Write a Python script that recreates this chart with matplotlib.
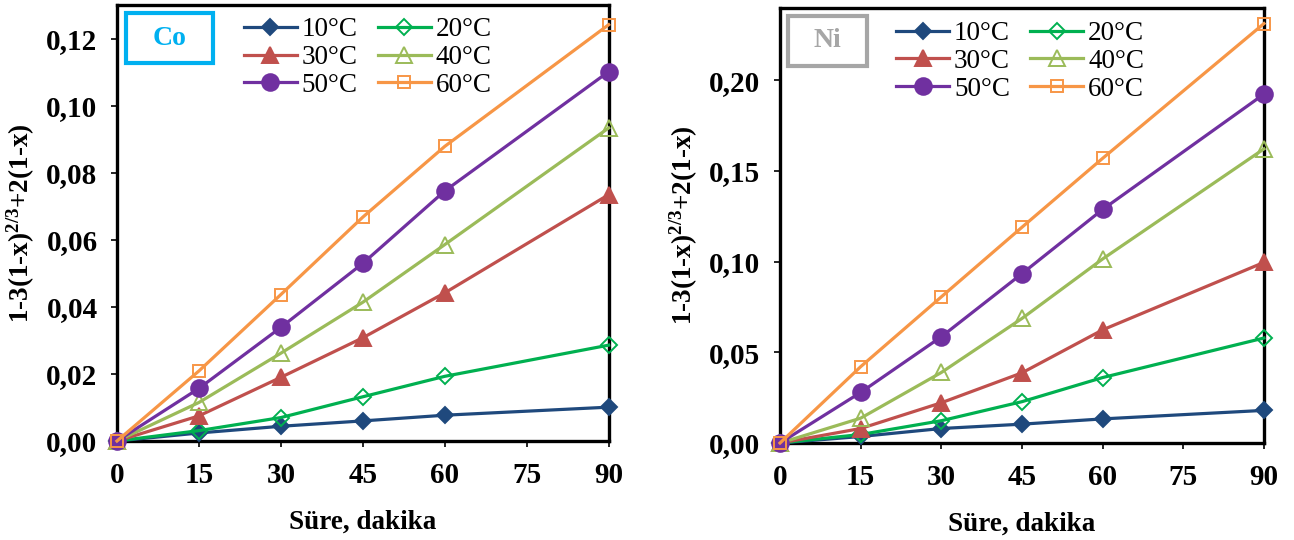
import numpy as np
import matplotlib
matplotlib.use('Agg')
import matplotlib.pyplot as plt
from matplotlib.ticker import FuncFormatter
from matplotlib.patches import Rectangle

plt.rcParams['font.family'] = ['Liberation Serif', 'DejaVu Serif']
plt.rcParams['mathtext.default'] = 'regular'

# time, min
t = [0, 15, 30, 45, 60, 90]
temps = ['10°C', '20°C', '30°C', '40°C', '50°C', '60°C']

# Co
co_10 = [0, 0.0024, 0.0044, 0.0060, 0.0077, 0.0101]
co_20 = [0, 0.0031, 0.0070, 0.0132, 0.0193, 0.0286]
co_30 = [0, 0.0075, 0.0190, 0.0308, 0.0442, 0.0735]
co_40 = [0, 0.0115, 0.0262, 0.0414, 0.0586, 0.0934]
co_50 = [0, 0.0157, 0.0339, 0.0530, 0.0746, 0.1102]
co_60 = [0, 0.0209, 0.0437, 0.0668, 0.0879, 0.1242]

# Ni
ni_10 = [0, 0.0036, 0.0080, 0.0104, 0.0133, 0.0180]
ni_20 = [0, 0.0047, 0.0123, 0.0228, 0.0361, 0.0579]
ni_30 = [0, 0.0080, 0.0222, 0.0387, 0.0624, 0.0996]
ni_40 = [0, 0.0137, 0.0389, 0.0687, 0.1015, 0.1622]
ni_50 = [0, 0.0279, 0.0586, 0.0934, 0.1288, 0.1924]
ni_60 = [0, 0.0421, 0.0806, 0.1190, 0.1570, 0.2313]

colors = ['#1F497D', '#00B050', '#C0504D', '#9BBB59', '#7030A0', '#F79646']
markers = ['D', 'D', '^', '^', 'o', 's']
msizes = [8.5, 8.5, 11, 11, 12, 9]
filled = [True, False, True, False, True, False]

fig = plt.figure(figsize=(12.94, 5.4), dpi=100)
ax1 = fig.add_axes([0.0904, 0.1833, 0.380, 0.807])
ax2 = fig.add_axes([0.6028, 0.1796, 0.374, 0.806])

fmt = FuncFormatter(lambda v, p: ('%.2f' % v).replace('.', ','))


def draw(ax, series, ymax, ystep, name, boxcol, box):
    handles = []
    for i, y in enumerate(series):
        h, = ax.plot(t, y, color=colors[i], lw=2.3, marker=markers[i],
                     ms=msizes[i], mew=1.4,
                     mfc=colors[i] if filled[i] else 'none',
                     mec=colors[i], clip_on=False, zorder=3 + i,
                     label=temps[i])
        handles.append(h)
    ax.set_xlim(0, 90)
    ax.set_ylim(0, ymax)
    ax.set_xticks([0, 15, 30, 45, 60, 75, 90])
    ax.set_yticks(np.arange(0, ymax + 1e-9, ystep))
    ax.yaxis.set_major_formatter(fmt)
    for s in ax.spines.values():
        s.set_linewidth(2.4)
        s.set_color('black')
    ax.tick_params(direction='out', length=4, width=1.2, labelsize=21,
                   top=False, right=False)
    ax.tick_params(axis='y', pad=10)
    ax.tick_params(axis='x', pad=11)
    for lab in ax.get_xticklabels() + ax.get_yticklabels():
        lab.set_fontweight('bold')
    ax.set_xlabel('Süre, dakika', fontsize=19.5, fontweight='bold', labelpad=15)
    ax.set_ylabel('1-3(1-x)$^{2/3}$+2(1-x)', fontsize=19.5, fontweight='bold',
                  labelpad=7)
    order = [0, 2, 4, 1, 3, 5]
    ax.legend([handles[k] for k in order], [temps[k] for k in order],
              ncol=2, frameon=False, fontsize=19.5, loc='upper left',
              bbox_to_anchor=box, handlelength=1.95, handletextpad=0.18,
              columnspacing=0.75, labelspacing=0.1, borderaxespad=0)
    x0, y0, x1, y1 = name[1]
    ax.add_patch(Rectangle((x0, y0), x1 - x0, y1 - y0, transform=ax.transAxes,
                           fill=False, ec=boxcol, lw=3, zorder=10))
    ax.text((x0 + x1) / 2, (y0 + y1) / 2, name[0], transform=ax.transAxes,
            ha='center', va='center', color=boxcol, fontsize=20,
            fontweight='bold', zorder=10)


draw(ax1, [co_10, co_20, co_30, co_40, co_50, co_60], 0.13, 0.02,
     ('Co', (0.018, 0.867, 0.195, 0.982)), '#00B0F0', (0.236, 0.997))
draw(ax2, [ni_10, ni_20, ni_30, ni_40, ni_50, ni_60], 0.24, 0.05,
     ('Ni', (0.0165, 0.866, 0.18, 0.982)), '#A6A6A6', (0.218, 0.994))

fig.savefig('out.png', dpi=100)
